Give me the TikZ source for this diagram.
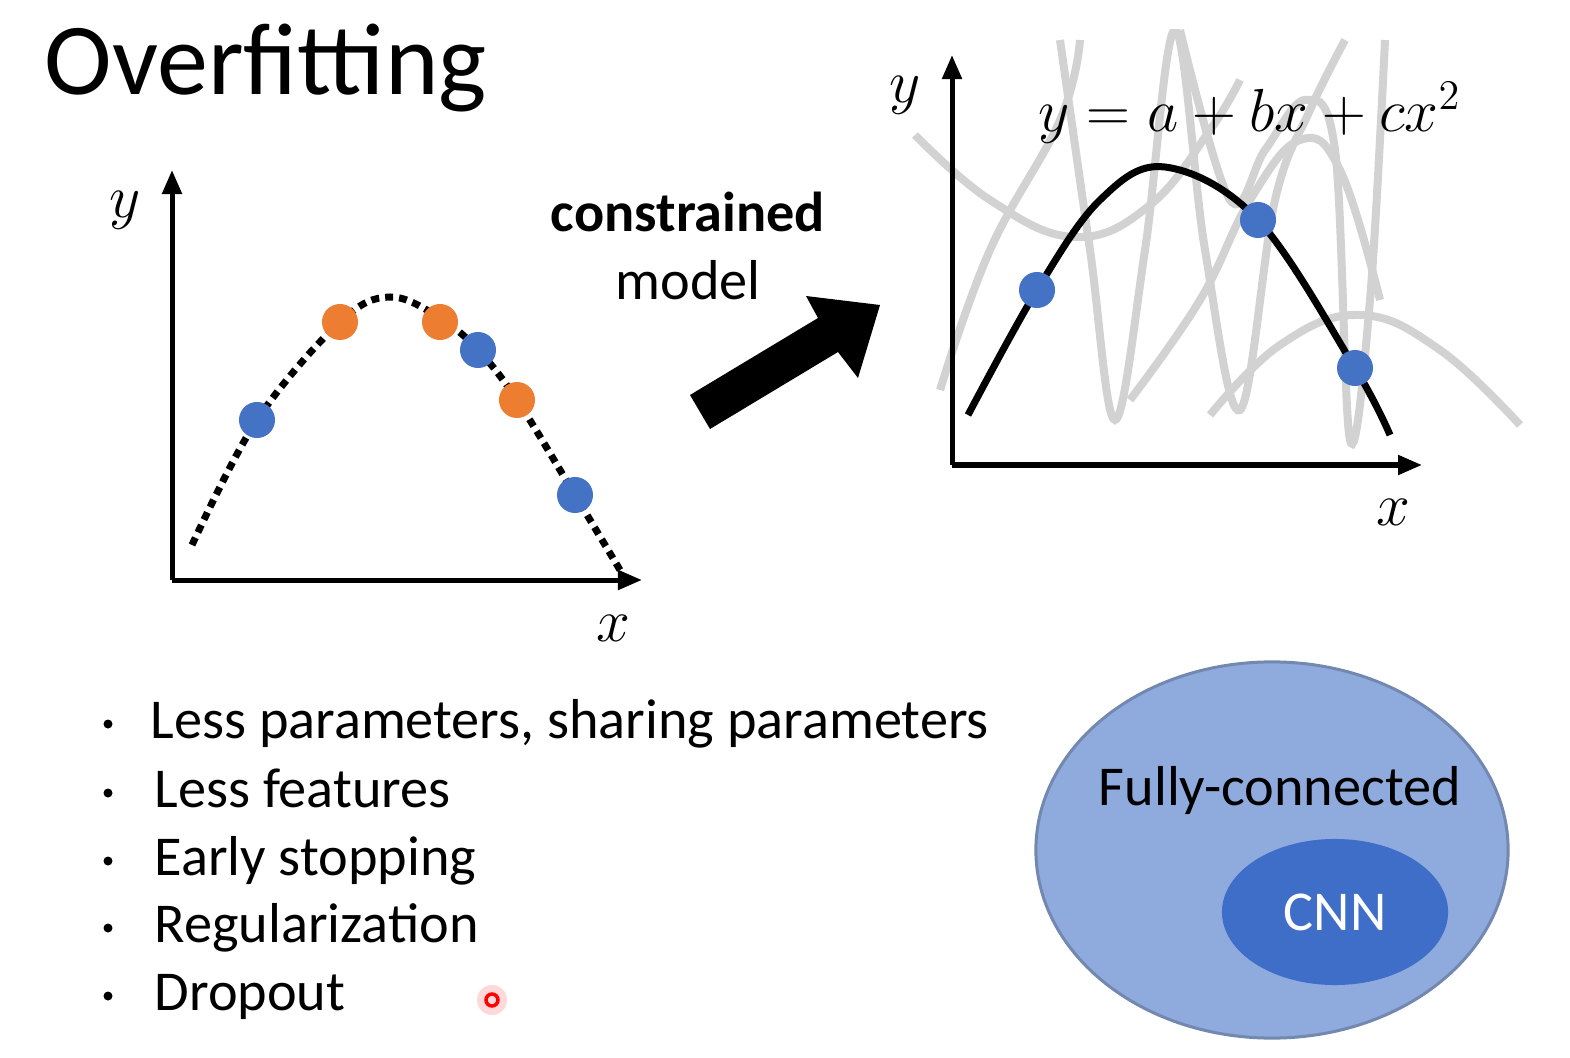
\documentclass[tikz,border=0pt]{standalone}
\usepackage{fontspec}
\setmainfont{Carlito}
\usetikzlibrary{arrows.meta,shapes.geometric}
\definecolor{dotblue}{HTML}{4472C4}
\definecolor{dotorange}{HTML}{ED7D31}
\definecolor{outer}{HTML}{8FAADC}
\definecolor{inner}{HTML}{3F6EC8}
\tikzset{
  ax/.style={line width=0.5mm,-{Triangle[length=2.4mm,width=1.9mm]}},
  pt/.style={circle,inner sep=0pt,minimum size=3.6mm},
  bp/.style={pt,fill=dotblue},
  op/.style={pt,fill=dotorange},
  gr/.style={line width=0.8mm,gray!35},
  lab/.style={font=\fontsize{17}{17}\selectfont},
  bul/.style={anchor=base west,inner sep=0pt,font=\fontsize{16}{16}\selectfont},
}
\begin{document}
\begin{tikzpicture}[x=0.01cm,y=-0.01cm]
\useasboundingbox (0,0) rectangle (1570,1058);
\fill[white] (0,0) rectangle (1570,1058);
\node[anchor=base west,inner sep=0pt,font=\fontsize{29}{29}\selectfont] (title) at (44,95) {Overfitting};
% left plot
\draw[ax] (172,580) -- (172,170);
\draw[ax] (172,580) -- (642,580);
\node[lab] (ly) at (125,210) {$y$};
\node[lab] (lx) at (613,628) {$x$};
\draw[line width=0.7mm,dash pattern=on 0.8mm off 0.6mm] plot[smooth,tension=0.6] coordinates {(192,545) (257,420) (340,322) (390,297) (440,318) (478,350) (517,400) (575,495) (620,570)};
\node[bp] (b1) at (257,420) {};
\node[op] (o1) at (340,322) {};
\node[op] (o2) at (440,322) {};
\node[bp] (b2) at (478,350) {};
\node[op] (o3) at (517,400) {};
\node[bp] (b3) at (575,495) {};
% arrow
\node[font=\bfseries\fontsize{16}{16}\selectfont] (con) at (688,212) {constrained};
\node[font=\fontsize{16}{16}\selectfont] (mod) at (688,280) {model};
\fill (690,395) -- (818,318) -- (806,296) -- (880,305) -- (858,378) -- (838,352) -- (710,429) -- cycle;
% right plot grey curves
\begin{scope}
\clip (905,30) rectangle (1525,470);
\draw[gr] plot[smooth,tension=0.7] coordinates {(915,135) (990,200) (1075,237) (1150,205) (1210,130) (1240,80)};
\draw[gr] plot[smooth,tension=0.7] coordinates {(940,390) (990,250) (1060,120) (1080,40)};
\draw[gr] plot[smooth,tension=0.6] coordinates {(1060,40) (1090,250) (1115,420) (1145,250) (1175,30) (1205,250) (1240,410) (1275,200) (1310,110) (1345,40)};
\draw[gr] plot[smooth,tension=0.6] coordinates {(1180,30) (1230,200) (1265,150) (1305,100) (1335,150) (1350,440) (1370,300) (1385,40)};
\draw[gr] plot[smooth,tension=0.7] coordinates {(1210,415) (1280,345) (1360,315) (1440,350) (1520,425)};
\draw[gr] plot[smooth,tension=0.7] coordinates {(1130,400) (1200,300) (1250,200) (1300,140) (1340,170) (1380,300)};
\end{scope}
\draw[ax] (952,465) -- (952,55);
\draw[ax] (952,465) -- (1422,465);
\node[lab] (ry) at (905,95) {$y$};
\node[lab] (rx) at (1393,512) {$x$};
\node[lab,anchor=base west,inner sep=0pt] (eq) at (1038,132) {$y=a+bx+cx^2$};
\draw[line width=0.7mm] plot[smooth,tension=0.6] coordinates {(968,415) (1037,290) (1100,200) (1165,167) (1258,220) (1355,368) (1390,435)};
\node[bp] (c1) at (1037,290) {};
\node[bp] (c2) at (1258,220) {};
\node[bp] (c3) at (1355,368) {};
% bullets
\foreach \t/\yy/\xx/\n in {{Less parameters, sharing parameters}/738/150/a, {Less features}/807/154/b, {Early stopping}/875/154/c, {Regularization}/942/154/d, {Dropout}/1010/154/e}{
  \node[bul] (t\n) at (\xx,\yy) {\t};
  \fill (108,\yy-14) circle (4.5);
}
\fill[red!15] (492,1000) circle (15);
\draw[red,line width=0.35mm] (492,1000) circle (6);
% ellipses
\node[ellipse,fill=outer,draw=outer!80!black,line width=0.3mm,minimum width=4.72cm,minimum height=3.76cm] (fc) at (1272,850) {};
\node[font=\fontsize{16}{16}\selectfont] (fct) at (1280,790) {Fully-connected};
\node[ellipse,fill=inner,minimum width=2.26cm,minimum height=1.46cm,text=white,font=\fontsize{16}{16}\selectfont] (cnn) at (1335,912) {CNN};
\end{tikzpicture}
\end{document}
